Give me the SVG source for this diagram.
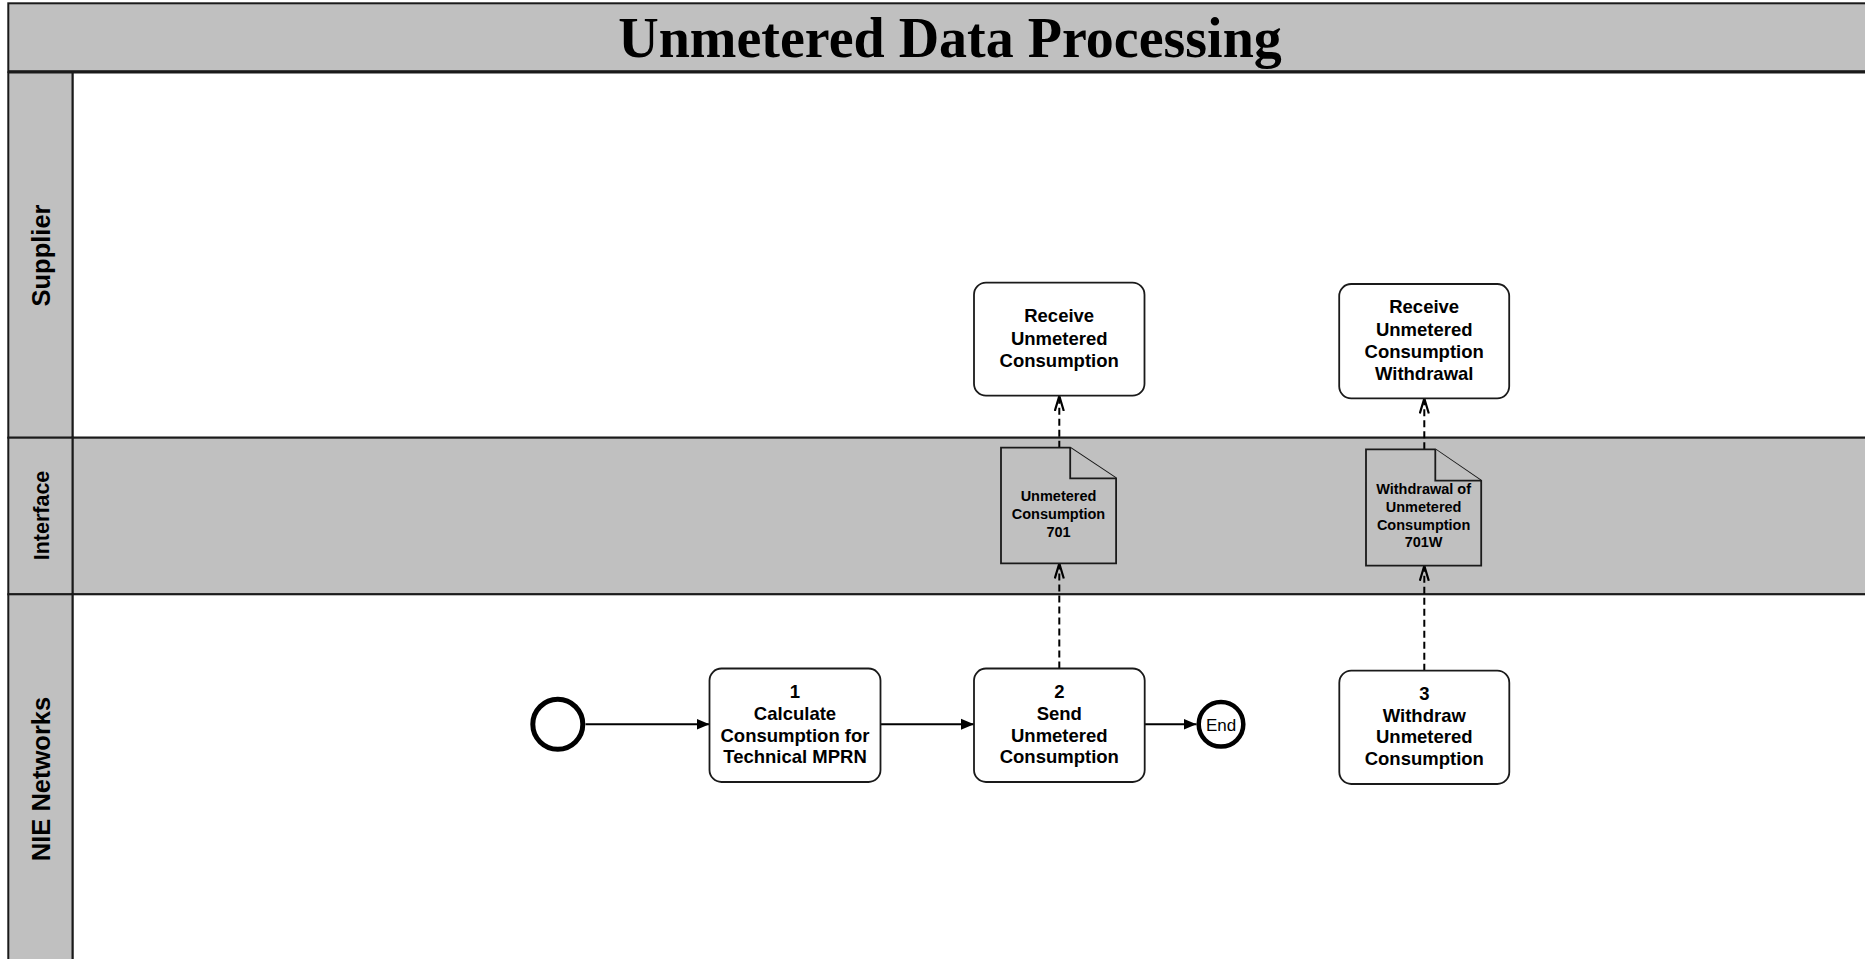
<svg xmlns="http://www.w3.org/2000/svg" width="1865" height="959" viewBox="0 0 1865 959">
<defs>
<style>
.lane{stroke:#1a1a1a;stroke-width:2}
.hdr{fill:#c0c0c0;stroke:#1a1a1a;stroke-width:2}
.task{fill:#ffffff;stroke:#1a1a1a;stroke-width:1.8}
.doc{fill:#c0c0c0;stroke:#1a1a1a;stroke-width:1.8}
.t{font-family:"Liberation Sans",Arial,sans-serif;font-weight:bold;font-size:18.5px;fill:#000;text-anchor:middle}
.d{font-family:"Liberation Sans",Arial,sans-serif;font-weight:bold;font-size:14.5px;fill:#000;text-anchor:middle}
.lbl{font-family:"Liberation Sans",Arial,sans-serif;font-weight:bold;font-size:25.5px;fill:#000;text-anchor:middle}
.flow{fill:none;stroke:#000;stroke-width:2}
.msg{fill:none;stroke:#000;stroke-width:2;stroke-dasharray:7 4}
</style>
<marker id="tri" markerUnits="userSpaceOnUse" markerWidth="14" markerHeight="12" refX="13" refY="6" orient="auto">
<path d="M0,0.5 L13,6 L0,11.5 Z" fill="#000"/>
</marker>
<marker id="open" markerUnits="userSpaceOnUse" markerWidth="17" markerHeight="12" refX="15" refY="5.5" orient="auto">
<path d="M0,1 L15,5.5 L0,10" fill="none" stroke="#000" stroke-width="2.2"/>
</marker>
</defs>

<g id="pool">
<rect x="0" y="0" width="1865" height="959" fill="#ffffff"/>
<rect id="title-bar" x="8.3" y="3.3" width="1870" height="68.5" class="hdr"/>
<line x1="8.3" y1="71.8" x2="1865" y2="71.8" stroke="#1a1a1a" stroke-width="3"/>
<text x="950" y="56.5" font-family="'Liberation Serif','Times New Roman',serif" font-weight="bold" font-size="56" text-anchor="middle" fill="#000">Unmetered Data Processing</text>
</g>

<g id="lane-supplier">
<rect x="72.5" y="72.5" width="1800" height="365.2" fill="#ffffff" class="lane"/>
<rect x="8.3" y="72.5" width="64.2" height="365.2" class="hdr"/>
<text class="lbl" transform="translate(50,255.5) rotate(-90)">Supplier</text>
</g>

<g id="lane-interface">
<rect x="72.5" y="437.7" width="1800" height="156.6" fill="#c0c0c0" class="lane"/>
<rect x="8.3" y="437.7" width="64.2" height="156.6" class="hdr"/>
<text class="lbl" style="font-size:21.5px" transform="translate(49,515.5) rotate(-90)">Interface</text>
</g>

<g id="lane-nie">
<rect x="72.5" y="594.3" width="1800" height="380" fill="#ffffff" class="lane"/>
<rect x="8.3" y="594.3" width="64.2" height="380" class="hdr"/>
<text class="lbl" transform="translate(50,779) rotate(-90)">NIE Networks</text>
</g>

<g id="connectors">
<path class="flow" d="M585.5,724.3 L709.5,724.3" marker-end="url(#tri)"/>
<path class="flow" d="M880.5,724.3 L974,724.3" marker-end="url(#tri)"/>
<path class="flow" d="M1144.5,724.3 L1196.5,724.3" marker-end="url(#tri)"/>
<path class="msg" d="M1059.3,668.5 L1059.3,563.5" marker-end="url(#open)"/>
<path class="msg" d="M1059.3,447.7 L1059.3,396" marker-end="url(#open)"/>
<path class="msg" d="M1424.3,670.7 L1424.3,565.8" marker-end="url(#open)"/>
<path class="msg" d="M1424.3,449.3 L1424.3,398.5" marker-end="url(#open)"/>
</g>

<g id="start">
<circle cx="557.8" cy="724.3" r="25" fill="#ffffff" stroke="#000" stroke-width="5"/>
</g>

<g id="task1">
<rect x="709.5" y="668.5" width="171" height="113.5" rx="12" class="task"/>
<text class="t" x="795" y="698.3">1</text>
<text class="t" x="795" y="720">Calculate</text>
<text class="t" x="795" y="741.7">Consumption for</text>
<text class="t" x="795" y="763.3">Technical MPRN</text>
</g>

<g id="task2">
<rect x="974" y="668.5" width="170.7" height="113.5" rx="12" class="task"/>
<text class="t" x="1059.3" y="698.3">2</text>
<text class="t" x="1059.3" y="720">Send</text>
<text class="t" x="1059.3" y="741.7">Unmetered</text>
<text class="t" x="1059.3" y="763.3">Consumption</text>
</g>

<g id="end">
<circle cx="1221" cy="724.3" r="22.3" fill="#ffffff" stroke="#000" stroke-width="4.5"/>
<text x="1221" y="730.5" font-family="'Liberation Sans',Arial,sans-serif" font-size="17" text-anchor="middle" fill="#000">End</text>
</g>

<g id="task3">
<rect x="1339.3" y="670.7" width="170" height="113.3" rx="12" class="task"/>
<text class="t" x="1424.3" y="700">3</text>
<text class="t" x="1424.3" y="721.7">Withdraw</text>
<text class="t" x="1424.3" y="743.3">Unmetered</text>
<text class="t" x="1424.3" y="765">Consumption</text>
</g>

<g id="receive1">
<rect x="974" y="282.7" width="170.5" height="113" rx="12" class="task"/>
<text class="t" x="1059.2" y="322.3">Receive</text>
<text class="t" x="1059.2" y="344.5">Unmetered</text>
<text class="t" x="1059.2" y="366.7">Consumption</text>
</g>

<g id="receive2">
<rect x="1339.2" y="284" width="170" height="114.3" rx="12" class="task"/>
<text class="t" x="1424.2" y="313.3">Receive</text>
<text class="t" x="1424.2" y="335.5">Unmetered</text>
<text class="t" x="1424.2" y="357.7">Consumption</text>
<text class="t" x="1424.2" y="380">Withdrawal</text>
</g>

<g id="doc701">
<path class="doc" d="M1001,447.7 L1070.2,447.7 L1116.1,478.3 L1116.1,563.3 L1001,563.3 Z"/>
<path class="doc" d="M1070.2,447.7 L1070.2,478.3 L1116.1,478.3"/>
<text class="d" x="1058.5" y="500.7">Unmetered</text>
<text class="d" x="1058.5" y="518.7">Consumption</text>
<text class="d" x="1058.5" y="536.5">701</text>
</g>

<g id="doc701w">
<path class="doc" d="M1366,449.3 L1435.3,449.3 L1481.2,480.7 L1481.2,565.7 L1366,565.7 Z"/>
<path class="doc" d="M1435.3,449.3 L1435.3,480.7 L1481.2,480.7"/>
<text class="d" x="1423.6" y="493.5">Withdrawal of</text>
<text class="d" x="1423.6" y="511.5">Unmetered</text>
<text class="d" x="1423.6" y="529.5">Consumption</text>
<text class="d" x="1423.6" y="547.3">701W</text>
</g>
</svg>
